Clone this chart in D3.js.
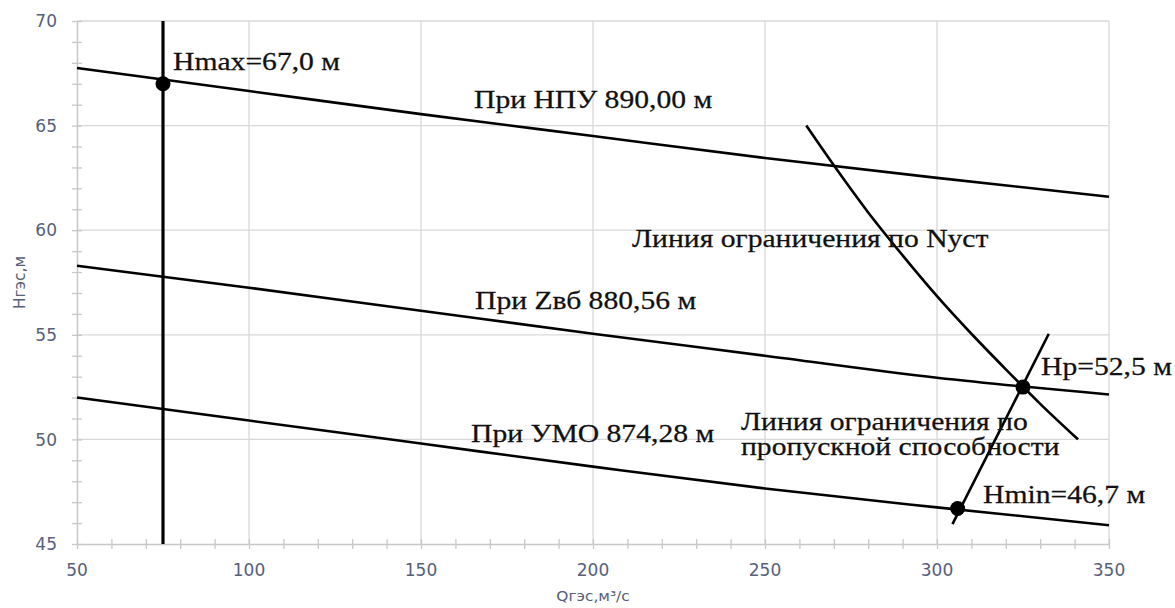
<!DOCTYPE html>
<html>
<head>
<meta charset="utf-8">
<script src="https://cdn.jsdelivr.net/npm/d3@7"></script>
<style>
  html, body { margin: 0; padding: 0; background: #fff; }
  svg { display: block; }
  .tick-label { font-family: "DejaVu Sans", sans-serif; font-size: 17px; fill: #56607a; }
  .axis-title { font-family: "DejaVu Sans", sans-serif; font-size: 14px; fill: #56607a; }
  .note { font-family: "Liberation Serif", "Times New Roman", serif; font-size: 25px; fill: #111; stroke: #111; stroke-width: 0.25; }
</style>
</head>
<body>
<svg id="chart" width="1175" height="608"></svg>
<script>
// Discharge grid for the head curves, m³/s
const qGrid = [50, 100, 150, 200, 250, 300, 350];
// Head at normal pool level (НПУ 890,00 м)
const hNpu = [67.75, 66.65, 65.55, 64.5, 63.45, 62.5, 61.6];
// Head at design reservoir level (Zвб 880,56 м)
const hZvb = [58.3, 57.25, 56.15, 55.05, 54.0, 52.95, 52.15];
// Head at dead storage level (УМО 874,28 м)
const hUmo = [52.0, 50.9, 49.8, 48.7, 47.65, 46.75, 45.9];

// Installed-capacity limit line (Nуст)
const nustQ = [262, 270, 280, 290, 300, 310, 320, 330, 341];
const nustH = [65.0, 63.1, 60.85, 58.8, 56.85, 55.05, 53.35, 51.7, 50.0];

// Turbine throughput limit line
const capQ = [304.5, 332.5];
const capH = [45.95, 55.05];

// Vertical line of the maximum head
const hmaxQ = 75;

// Characteristic points
const pointNames = ["Hmax", "Hp", "Hmin"];
const pointQ = [75, 325, 306];
const pointH = [67.0, 52.5, 46.7];

// Axis ticks
const xTicks = [50, 100, 150, 200, 250, 300, 350];
const yTicks = [45, 50, 55, 60, 65, 70];

const svg = d3.select("#chart");
const x = d3.scaleLinear().domain([50, 350]).range([77, 1109]);
const y = d3.scaleLinear().domain([45, 70]).range([544, 21]);

// Gridlines
const grid = svg.append("g");
grid.selectAll("line.v").data(xTicks.slice(1)).join("line")
  .attr("x1", d => x(d)).attr("x2", d => x(d))
  .attr("y1", y(45)).attr("y2", y(70))
  .attr("stroke", "#d9d9d9").attr("stroke-width", 1.3);
grid.selectAll("line.h").data(yTicks.slice(1)).join("line")
  .attr("x1", x(50)).attr("x2", x(350))
  .attr("y1", d => y(d)).attr("y2", d => y(d))
  .attr("stroke", "#d9d9d9").attr("stroke-width", 1.3);

// Axes: the ticks straddle the axis line
const xAxis = d3.axisBottom(x).tickValues(d3.range(50, 351, 10))
  .tickSizeInner(10).tickSizeOuter(0).tickFormat("");
const gx = svg.append("g").attr("transform", `translate(0,${y(45)})`).call(xAxis);
gx.selectAll(".tick line").attr("y1", -5).attr("y2", 5);
const yAxis = d3.axisLeft(y).tickValues(d3.range(45, 71, 1))
  .tickSizeInner(10).tickSizeOuter(0).tickFormat("");
const gy = svg.append("g").attr("transform", `translate(${x(50)},0)`).call(yAxis);
gy.selectAll(".tick line").attr("x1", -5).attr("x2", 5);
[gx, gy].forEach(g => {
  g.select(".domain").attr("stroke", "#c8c8c8").attr("stroke-width", 1.5);
  g.selectAll(".tick line").attr("stroke", "#c8c8c8").attr("stroke-width", 1.3);
});

// Tick labels
svg.append("g").selectAll("text").data(xTicks).join("text")
  .attr("class", "tick-label")
  .attr("x", d => x(d)).attr("y", 576)
  .attr("text-anchor", "middle")
  .text(d => d);
svg.append("g").selectAll("text").data(yTicks).join("text")
  .attr("class", "tick-label")
  .attr("x", 57).attr("y", d => y(d))
  .attr("dy", "0.36em")
  .attr("text-anchor", "end")
  .text(d => d);

// Axis titles
svg.append("text").attr("class", "axis-title")
  .attr("transform", `translate(${(x(50) + x(350)) / 2},601) scale(1.1,1)`)
  .attr("text-anchor", "middle")
  .text("Qгэс,м³/с");
svg.append("text").attr("class", "axis-title")
  .attr("transform", `translate(25,${(y(45) + y(70)) / 2}) rotate(-90) scale(1.1,1.15)`)
  .attr("text-anchor", "middle")
  .text("Нгэс,м");

// Curves
const line = d3.line().x(d => x(d[0])).y(d => y(d[1])).curve(d3.curveMonotoneX);
const curves = [
  d3.zip(qGrid, hNpu),
  d3.zip(qGrid, hZvb),
  d3.zip(qGrid, hUmo),
  d3.zip(nustQ, nustH),
  d3.zip(capQ, capH)
];
svg.append("g").selectAll("path").data(curves).join("path")
  .attr("d", line)
  .attr("fill", "none").attr("stroke", "#000").attr("stroke-width", 2.6);

svg.append("line")
  .attr("x1", x(hmaxQ)).attr("x2", x(hmaxQ))
  .attr("y1", y(45)).attr("y2", y(70))
  .attr("stroke", "#000").attr("stroke-width", 3.2);

// Characteristic points
svg.append("g").selectAll("circle").data(d3.zip(pointQ, pointH)).join("circle")
  .attr("cx", d => x(d[0])).attr("cy", d => y(d[1])).attr("r", 7.5)
  .attr("fill", "#000");

// Annotations
const fmt = v => v.toFixed(1).replace(".", ",");
const notes = [
  [`${pointNames[0]}=${fmt(pointH[0])} м`, 173, 70],
  ["При НПУ 890,00 м", 474, 108],
  ["Линия ограничения по Nуст", 632, 247],
  ["При Zвб 880,56 м", 475, 309],
  [`${pointNames[1]}=${fmt(pointH[1])} м`, 1041, 375],
  ["Линия ограничения по", 741, 430],
  ["пропускной способности", 741, 455],
  ["При УМО 874,28 м", 471, 442],
  [`${pointNames[2]}=${fmt(pointH[2])} м`, 983, 503]
];
svg.append("g").selectAll("text").data(notes).join("text")
  .attr("class", "note")
  .attr("transform", d => `translate(${d[1]},${d[2]}) scale(1.185,1)`)
  .text(d => d[0]);
</script>
</body>
</html>
